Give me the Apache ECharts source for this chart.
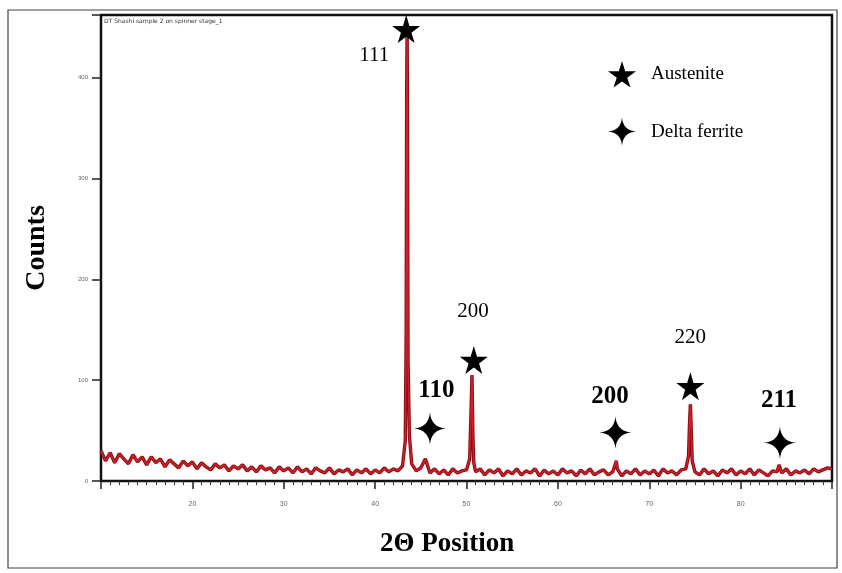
<!DOCTYPE html>
<html>
<head>
<meta charset="utf-8">
<script src="https://cdn.jsdelivr.net/npm/echarts@6/dist/echarts.min.js"></script>
<style>
  html, body { margin: 0; padding: 0; background: #fff; }
  #chart { width: 842px; height: 573px; }
</style>
</head>
<body>
<div id="chart"></div>
<script>
// scan grid: 10 to 90 deg, step 0.5
var scanStart = 10;
var scanStep = 0.5;
var baseCounts = [
	30, 20, 28, 18, 27, 22, 17, 26, 19, 24,
	16, 24, 18, 22, 14, 21, 17, 13, 20, 15,
	19, 12, 18, 14, 11, 17, 13, 16, 10, 15,
	12, 16, 10, 14, 9, 15, 11, 13, 8, 14,
	10, 13, 8, 14, 9, 12, 7, 13, 10, 8,
	13, 7, 11, 9, 12, 6, 11, 8, 12, 7,
	11, 8, 13, 9, 12, 10, 15, 450, 17, 10,
	13, 22, 8, 12, 7, 11, 6, 12, 8, 10,
	11, 70, 9, 12, 6, 11, 8, 12, 5, 10,
	7, 12, 6, 10, 8, 12, 5, 11, 7, 10,
	6, 12, 8, 10, 5, 11, 7, 12, 6, 9,
	11, 6, 9, 12, 5, 10, 7, 12, 6, 10,
	7, 11, 5, 12, 8, 10, 6, 11, 12, 76,
	9, 6, 12, 7, 10, 5, 11, 8, 12, 6,
	10, 7, 12, 6, 11, 8, 5, 10, 9, 8,
	12, 6, 10, 8, 11, 7, 12, 9, 11, 13,
	12
];
// extra points on the peak flanks
var peakPos = [43.3, 43.4, 43.45, 43.55, 43.6, 43.75, 50.35, 50.6, 50.7, 50.8, 66.4, 74.3, 74.4, 74.6, 74.7, 84.2];
var peakCounts = [40, 150, 380, 330, 120, 45, 22, 105, 45, 18, 20, 25, 55, 50, 20, 16];

// markers
var austenitePos = [[43.4, 448], [50.8, 120], [74.5, 94]];
var ferritePos = [[46.0, 52], [66.3, 48], [84.3, 38]];

// hkl labels
var hklText = ['111', '200', '110', '200', '220', '211'];
var hklPos = [[39.9, 422], [50.7, 168], [46.7, 90], [65.7, 84], [74.5, 142], [84.2, 80]];
var hklBold = [false, false, true, true, false, true];

var xTicks = [20, 30, 40, 50, 60, 70, 80];
var yTicks = [0, 100, 200, 300, 400];

var starPath = 'path://M50,0 L61,35 L98,35 L68,57 L79,91 L50,70 L21,91 L32,57 L2,35 L39,35 Z';
var crossPath = 'path://M50,0 Q54,46 100,50 Q54,54 50,100 Q46,54 0,50 Q46,46 50,0 Z';

var pattern = [];
for (var i = 0; i < baseCounts.length; i++) {
	pattern.push([scanStart + i * scanStep, baseCounts[i]]);
}
for (var j = 0; j < peakPos.length; j++) {
	pattern.push([peakPos[j], peakCounts[j]]);
}
pattern.sort(function (a, b) { return a[0] - b[0]; });

var hklData = [];
for (var k = 0; k < hklText.length; k++) {
	hklData.push({
		name: hklText[k],
		value: hklPos[k],
		label: {
			fontWeight: hklBold[k] ? 'bold' : 'normal',
			fontSize: hklBold[k] ? 25 : 21
		}
	});
}

var chart = echarts.init(document.getElementById('chart'));
var option = {
	animation: false,
	backgroundColor: '#fff',
	grid: {
		left: 101,
		right: 10,
		top: 15,
		bottom: 92,
		show: true,
		borderColor: '#111',
		borderWidth: 2.5
	},
	legend: {
		orient: 'vertical',
		left: 603,
		top: 56,
		itemWidth: 28,
		itemHeight: 28,
		itemGap: 30,
		data: ['Austenite', 'Delta ferrite'],
		itemStyle: { opacity: 1 },
		textStyle: {
			fontFamily: 'Liberation Serif',
			fontSize: 19,
			color: '#000',
			padding: [0, 0, 0, 10]
		}
	},
	xAxis: {
		type: 'value',
		min: 10,
		max: 90,
		interval: 10,
		axisLine: { lineStyle: { color: '#111', width: 2 } },
		axisTick: { length: 8, lineStyle: { color: '#222', width: 1.5 } },
		minorTick: { show: true, splitNumber: 10, length: 4, lineStyle: { color: '#333' } },
		splitLine: { show: false },
		axisLabel: {
			margin: 20,
			fontSize: 7,
			color: '#666',
			formatter: function (v) { return xTicks.indexOf(v) >= 0 ? v : ''; }
		}
	},
	yAxis: {
		type: 'value',
		min: 0,
		max: 462,
		interval: 100,
		name: 'Counts',
		nameLocation: 'middle',
		nameGap: 50,
		nameTextStyle: {
			fontFamily: 'Liberation Serif',
			fontWeight: 'bold',
			fontSize: 28,
			color: '#000'
		},
		axisLine: { show: true, lineStyle: { color: '#111', width: 2 } },
		axisTick: { show: true, length: 9, lineStyle: { color: '#222', width: 1.5 } },
		splitLine: { show: false },
		axisLabel: {
			margin: 13,
			fontSize: 6,
			color: '#666',
			formatter: function (v) { return yTicks.indexOf(v) >= 0 ? v : ''; }
		}
	},
	graphic: [
		{
			type: 'rect',
			shape: { x: 8, y: 10, width: 829, height: 558 },
			style: { fill: 'none', stroke: '#444', lineWidth: 1.2 },
			silent: true
		},
		{
			type: 'text',
			left: 104,
			top: 18,
			style: { text: 'DT Shashi sample 2 on spinner stage_1', fontSize: 6, fill: '#333', fontFamily: 'DejaVu Sans' }
		},
		{
			type: 'text',
			left: 380,
			top: 531,
			style: { text: '2\u0398 Position', fontSize: 27, fontWeight: 'bold', fill: '#000', fontFamily: 'Liberation Serif' }
		}
	],
	series: [
		{
			name: 'pattern',
			type: 'line',
			data: pattern,
			showSymbol: false,
			lineStyle: { color: '#850d13', width: 3.4 },
			z: 2
		},
		{
			name: 'pattern2',
			type: 'line',
			data: pattern,
			showSymbol: false,
			lineStyle: { color: '#d21f28', width: 1.5 },
			z: 3
		},
		{
			name: 'Austenite',
			type: 'scatter',
			data: austenitePos,
			symbol: starPath,
			symbolSize: 28,
			clip: false,
			itemStyle: { color: '#000', opacity: 1 },
			z: 5
		},
		{
			name: 'Delta ferrite',
			type: 'scatter',
			data: ferritePos,
			symbol: crossPath,
			symbolSize: 32,
			clip: false,
			itemStyle: { color: '#000', opacity: 1 },
			z: 5
		},
		{
			name: 'hkl',
			type: 'scatter',
			data: hklData,
			symbolSize: 0,
			clip: false,
			itemStyle: { opacity: 1 },
			label: {
				show: true,
				position: 'inside',
				formatter: '{b}',
				fontFamily: 'Liberation Serif',
				color: '#000',
				opacity: 1
			},
			z: 6
		}
	]
};
chart.setOption(option);
</script>
</body>
</html>
